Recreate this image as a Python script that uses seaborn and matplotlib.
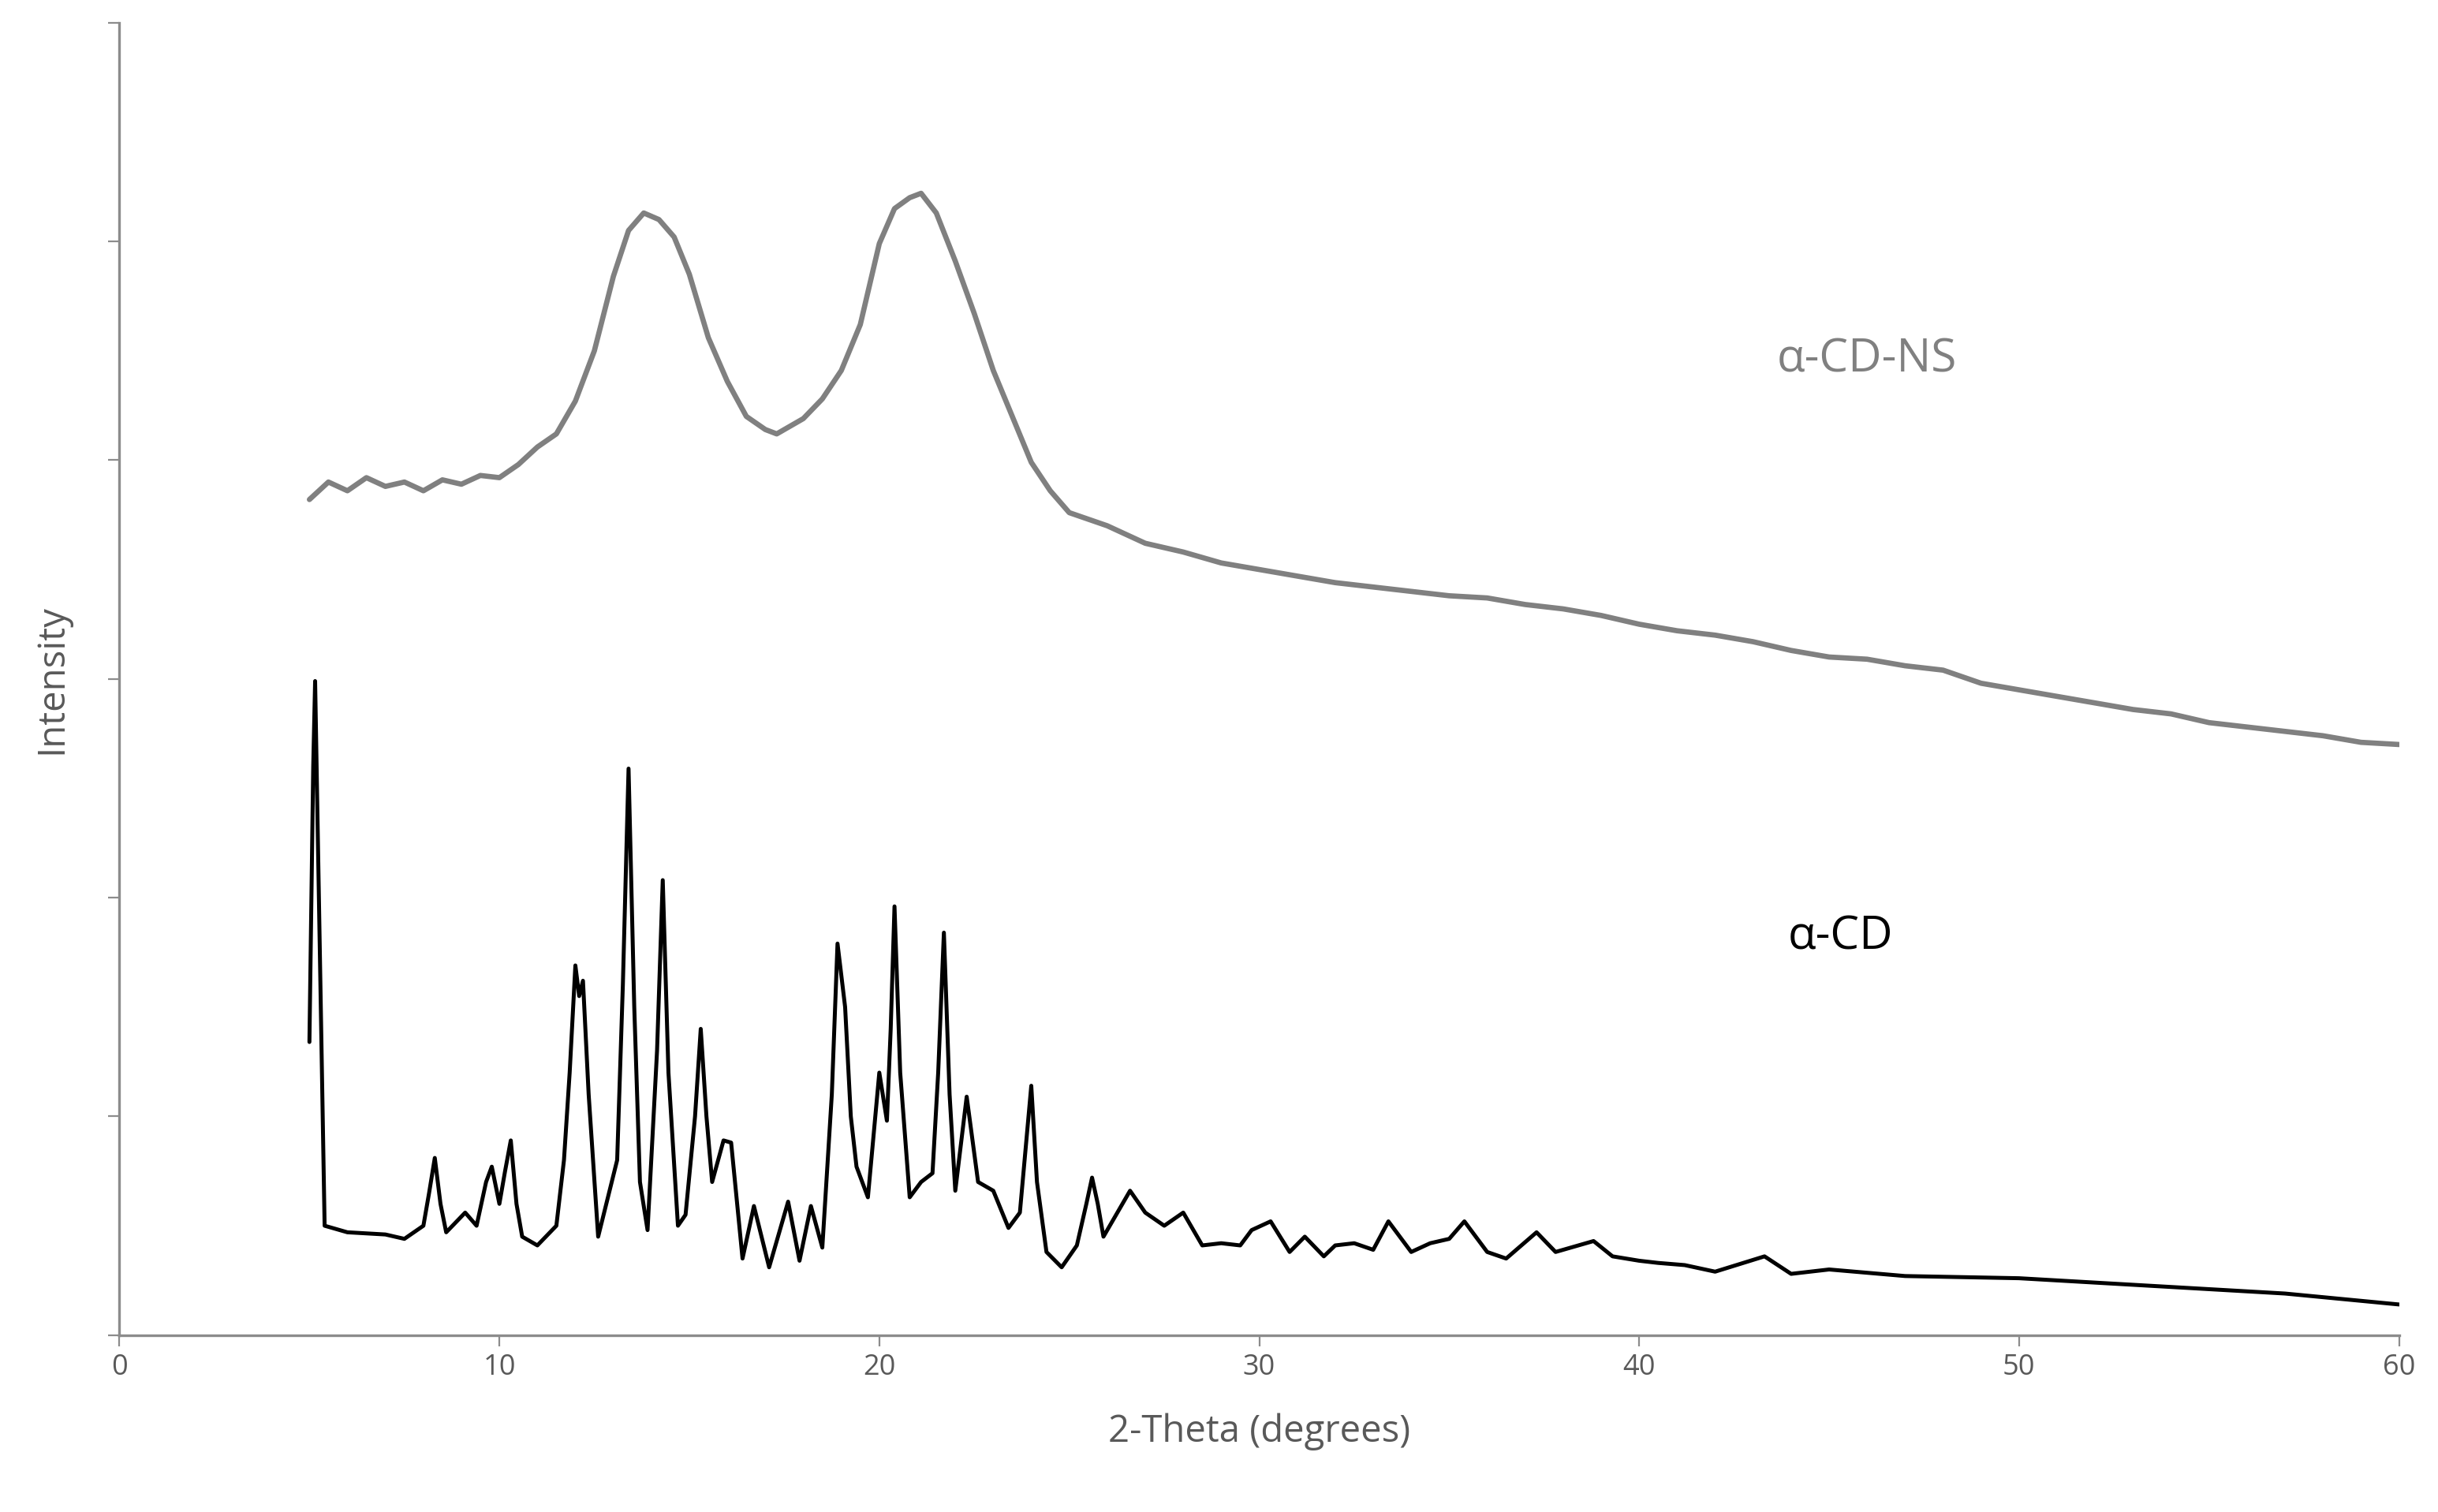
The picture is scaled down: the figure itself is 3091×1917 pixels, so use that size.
import matplotlib
matplotlib.use("Agg")
import matplotlib.pyplot as plt
import seaborn as sns
import pandas as pd

sns.set_style("white")
plt.rcParams['font.family'] = ['Open Sans', 'DejaVu Sans']

cd_x = [5.0,5.1,5.15,5.25,5.4,6,7,7.5,8.0,8.15,8.3,8.45,8.6,9.1,9.4,9.65,9.8,10.0,10.15,10.3,10.45,10.6,11,11.5,11.7,11.85,12.0,12.1,12.2,12.35,12.6,13.1,13.25,13.4,13.55,13.7,13.9,14.15,14.3,14.45,14.7,14.9,15.15,15.3,15.45,15.6,15.9,16.1,16.4,16.7,17.1,17.6,17.9,18.2,18.5,18.75,18.9,19.1,19.25,19.4,19.7,20.0,20.2,20.3,20.4,20.55,20.8,21.1,21.4,21.55,21.7,21.85,22.0,22.3,22.6,23.0,23.4,23.7,23.85,24.0,24.15,24.4,24.8,25.2,25.45,25.6,25.75,25.9,26.6,27.0,27.5,28.0,28.5,29.0,29.5,29.8,30.3,30.8,31.2,31.7,32,32.5,33,33.4,34,34.5,35.0,35.4,36,36.5,37.3,37.8,38.2,38.8,39.3,40,40.5,41.2,42,43.3,44,45,47,50,52,55,57,60]
cd_y = [1.34,2.6,2.99,2.0,0.5,0.47,0.46,0.44,0.5,0.65,0.81,0.6,0.47,0.56,0.5,0.7,0.77,0.6,0.75,0.89,0.6,0.45,0.41,0.5,0.8,1.2,1.69,1.55,1.62,1.1,0.45,0.8,1.6,2.59,1.5,0.7,0.48,1.3,2.08,1.2,0.5,0.55,1.0,1.4,1.0,0.7,0.89,0.88,0.35,0.59,0.31,0.61,0.34,0.59,0.4,1.1,1.79,1.5,1.0,0.77,0.63,1.2,0.98,1.4,1.96,1.2,0.63,0.7,0.74,1.2,1.84,1.1,0.66,1.09,0.7,0.66,0.49,0.56,0.85,1.14,0.7,0.38,0.31,0.41,0.6,0.72,0.6,0.45,0.66,0.56,0.5,0.56,0.41,0.42,0.41,0.48,0.52,0.38,0.45,0.36,0.41,0.42,0.39,0.52,0.38,0.42,0.44,0.52,0.38,0.35,0.47,0.38,0.4,0.43,0.36,0.34,0.33,0.32,0.29,0.36,0.28,0.3,0.27,0.26,0.24,0.21,0.19,0.14]

ns_x = [5,5.5,6,6.5,7,7.5,8,8.5,9,9.5,10,10.5,11,11.5,12,12.5,13,13.4,13.8,14.2,14.6,15,15.5,16,16.5,17,17.3,17.6,18,18.5,19,19.5,20,20.4,20.8,21.1,21.5,22,22.5,23,23.5,24,24.5,25,26,27,28,29,30,31,32,33,34,35,36,37,38,39,40,41,42,43,44,45,46,47,48,49,50,51,52,53,54,55,56,57,58,59,60]
ns_y = [3.82,3.9,3.86,3.92,3.88,3.9,3.86,3.91,3.89,3.93,3.92,3.98,4.06,4.12,4.27,4.5,4.84,5.05,5.13,5.1,5.02,4.85,4.56,4.36,4.2,4.14,4.12,4.15,4.19,4.28,4.41,4.62,4.99,5.15,5.2,5.22,5.13,4.91,4.67,4.41,4.2,3.99,3.86,3.76,3.7,3.62,3.58,3.53,3.5,3.47,3.44,3.42,3.4,3.38,3.37,3.34,3.32,3.29,3.25,3.22,3.2,3.17,3.13,3.1,3.09,3.06,3.04,2.98,2.95,2.92,2.89,2.86,2.84,2.8,2.78,2.76,2.74,2.71,2.7]

df_cd = pd.DataFrame({"x": cd_x, "y": cd_y})
df_ns = pd.DataFrame({"x": ns_x, "y": ns_y})

fig = plt.figure(figsize=(15.455, 9.585), dpi=200)
ax = fig.add_axes([0.049, 0.117, 0.935, 0.868])
sns.lineplot(data=df_ns, x="x", y="y", ax=ax, color="#808080", linewidth=2.4)
sns.lineplot(data=df_cd, x="x", y="y", ax=ax, color="black", linewidth=1.8)

ax.set_xlim(0, 60)
ax.set_ylim(0, 6)
ax.set_xticks(range(0, 61, 10))
ax.set_yticks(range(0, 7))
ax.set_yticklabels([])
for s in ["top", "right"]:
    ax.spines[s].set_visible(False)
for s in ["left", "bottom"]:
    ax.spines[s].set_color("#8c8c8c")
    ax.spines[s].set_linewidth(1.2)
ax.tick_params(axis="both", direction="out", length=5, color="#8c8c8c", labelsize=13, labelcolor="#595959", left=True, bottom=True)
ax.set_xlabel("2-Theta (degrees)", fontsize=17, color="#595959", labelpad=14)
ax.set_ylabel("Intensity", fontsize=17, color="#595959", labelpad=14)
ax.text(46, 4.46, "α-CD-NS", fontsize=21, color="#808080", ha="center", va="center")
ax.text(45.3, 1.82, "α-CD", fontsize=21, color="black", ha="center", va="center")
fig.savefig("out.png", dpi=200)
